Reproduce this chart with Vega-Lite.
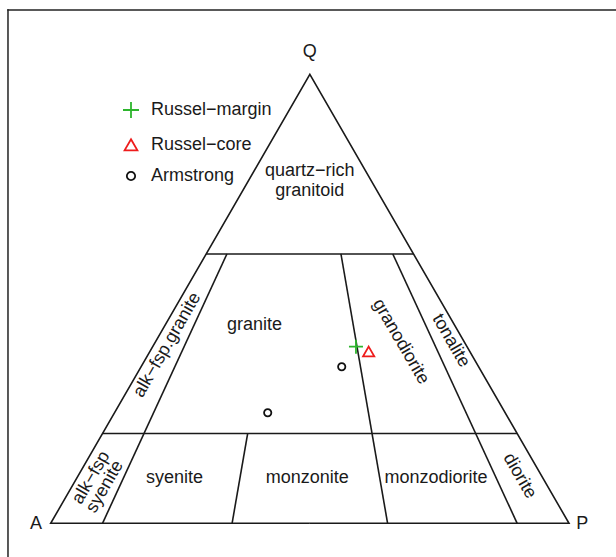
{
  "$schema": "https://vega.github.io/schema/vega-lite/v6.json",
  "width": 608,
  "height": 547,
  "autosize": {"type": "none"},
  "padding": {"left": 8, "top": 10, "right": 0, "bottom": 0},
  "background": "white",
  "view": {"stroke": null},
  "config": {
    "text": {"font": "Liberation Sans", "fontSize": 18, "fill": "#1a1a1a"}
  },
  "datasets": {
    "frame": [
      {"x": -0.0824, "y": 0.9904, "x2": 1.2, "y2": 0.9904},
      {"x": -0.0824, "y": 0.9904, "x2": -0.0824, "y2": -0.2}
    ],
    "segments": [
      {"x": 0.3, "y": 0.519615, "x2": 0.7, "y2": 0.519615},
      {"x": 0.1, "y": 0.173205, "x2": 0.9, "y2": 0.173205},
      {"x": 0.1, "y": 0, "x2": 0.34, "y2": 0.519615},
      {"x": 0.35, "y": 0, "x2": 0.38, "y2": 0.173205},
      {"x": 0.65, "y": 0, "x2": 0.56, "y2": 0.519615},
      {"x": 0.9, "y": 0, "x2": 0.66, "y2": 0.519615}
    ],
    "outline": [
      {"i": 0, "x": 0.5, "y": 0},
      {"i": 1, "x": 1, "y": 0},
      {"i": 2, "x": 0.5, "y": 0.866025},
      {"i": 3, "x": 0, "y": 0},
      {"i": 4, "x": 0.5, "y": 0}
    ],
    "labels": [
      {"label": "Q", "x": 0.5, "y": 0.9099},
      {"label": "A", "x": -0.0284, "y": -0.0019},
      {"label": "P", "x": 1.0257, "y": -0.0014},
      {"label": "quartz−rich", "x": 0.5, "y": 0.6803},
      {"label": "granitoid", "x": 0.5, "y": 0.6417},
      {"label": "granite", "x": 0.3934, "y": 0.3826},
      {"label": "syenite", "x": 0.2389, "y": 0.0878},
      {"label": "monzonite", "x": 0.4951, "y": 0.0878},
      {"label": "monzodiorite", "x": 0.7434, "y": 0.0878}
    ],
    "labelsUp": [
      {"label": "alk−fsp.granite", "x": 0.225, "y": 0.344},
      {"label": "alk−fsp", "x": 0.0781, "y": 0.0878},
      {"label": "syenite", "x": 0.1046, "y": 0.0706}
    ],
    "labelsDown": [
      {"label": "granodiorite", "x": 0.6753, "y": 0.3504},
      {"label": "tonalite", "x": 0.7718, "y": 0.3523},
      {"label": "diorite", "x": 0.9045, "y": 0.0913}
    ],
    "samples": [
      {"series": "Russel−margin", "x": 0.589, "y": 0.3407},
      {"series": "Russel−core", "x": 0.6135, "y": 0.3311},
      {"series": "Armstrong", "x": 0.5615, "y": 0.3021},
      {"series": "Armstrong", "x": 0.4187, "y": 0.2134}
    ]
  },
  "encoding": {
    "x": {"field": "x", "type": "quantitative", "scale": {"domain": [-0.08238, 1.09069], "nice": false, "zero": false}, "axis": null},
    "y": {"field": "y", "type": "quantitative", "scale": {"domain": [-0.06502, 0.99035], "nice": false, "zero": false}, "axis": null}
  },
  "layer": [
    {
      "data": {"name": "frame"},
      "mark": {"type": "rule", "stroke": "#222222", "strokeWidth": 1.5, "strokeCap": "square"},
      "encoding": {"x2": {"field": "x2"}, "y2": {"field": "y2"}}
    },
    {
      "data": {"name": "segments"},
      "mark": {"type": "rule", "stroke": "#1a1a1a", "strokeWidth": 1.6},
      "encoding": {"x2": {"field": "x2"}, "y2": {"field": "y2"}}
    },
    {
      "data": {"name": "outline"},
      "mark": {"type": "line", "stroke": "#1a1a1a", "strokeWidth": 1.6, "strokeJoin": "miter"},
      "encoding": {"order": {"field": "i", "type": "quantitative"}}
    },
    {
      "data": {"name": "labels"},
      "mark": {"type": "text", "align": "center", "baseline": "middle"},
      "encoding": {"text": {"field": "label"}}
    },
    {
      "data": {"name": "labelsUp"},
      "mark": {"type": "text", "align": "center", "baseline": "middle", "angle": -60},
      "encoding": {"text": {"field": "label"}}
    },
    {
      "data": {"name": "labelsDown"},
      "mark": {"type": "text", "align": "center", "baseline": "middle", "angle": 60},
      "encoding": {"text": {"field": "label"}}
    },
    {
      "data": {"name": "samples"},
      "mark": {"type": "point", "filled": false, "strokeWidth": 1.8, "size": 196, "opacity": 1},
      "encoding": {
        "shape": {
          "field": "series", "type": "nominal",
          "scale": {"domain": ["Russel−margin", "Russel−core", "Armstrong"],
                    "range": ["M-1,0H1M0,-1V1", "M0,-0.72L0.8,0.66L-0.8,0.66Z", "M0.52,0A0.52,0.52 0 1,1 -0.52,0A0.52,0.52 0 1,1 0.52,0Z"]},
          "legend": {"orient": "none", "legendX": 114, "legendY": 91, "title": null, "labelFont": "Liberation Sans", "labelFontSize": 18, "labelColor": "#1a1a1a", "rowPadding": 13, "labelOffset": 11, "symbolSize": 256, "symbolStrokeWidth": 1.8, "padding": 0}
        },
        "color": {
          "field": "series", "type": "nominal",
          "scale": {"domain": ["Russel−margin", "Russel−core", "Armstrong"], "range": ["#2db52d", "#ee1c1c", "#111111"]},
          "legend": {"orient": "none", "legendX": 114, "legendY": 91, "title": null, "labelFont": "Liberation Sans", "labelFontSize": 18, "labelColor": "#1a1a1a", "rowPadding": 13, "labelOffset": 11, "symbolSize": 256, "symbolStrokeWidth": 1.8, "padding": 0}
        }
      }
    }
  ]
}
